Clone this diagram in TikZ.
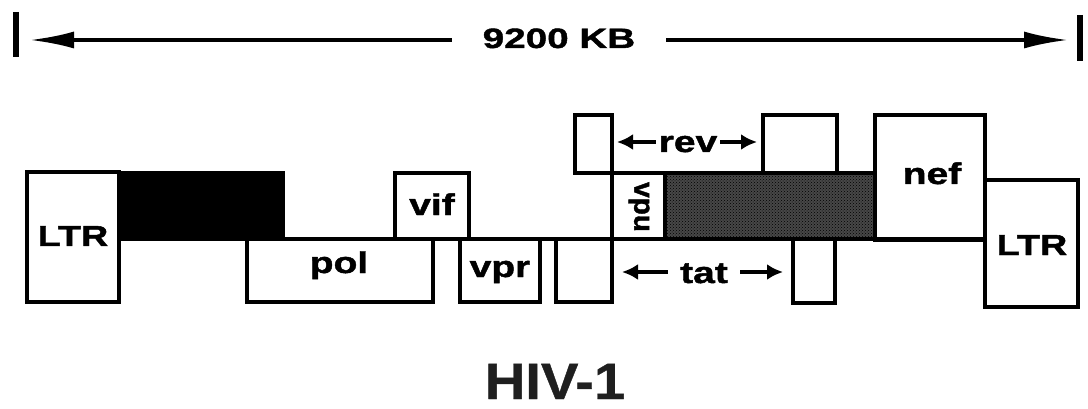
\documentclass[tikz,border=0pt]{standalone}
\usepackage{fontspec}
\newfontfamily\labfont[FakeStretch=1.3,BoldFeatures={FakeBold=1.5}]{Liberation Sans}
\newfontfamily\kbfont[FakeStretch=1.38,BoldFeatures={FakeBold=1.5}]{Liberation Sans}
\newfontfamily\titlefont[FakeStretch=1.1,BoldFeatures={FakeBold=0.8}]{Liberation Sans}
\newfontfamily\plainfont[BoldFeatures={FakeBold=1.5}]{Liberation Sans}
\usetikzlibrary{arrows.meta,patterns}
\tikzset{
  genebox/.style={draw=black, line width=3.4pt, line join=miter},
  lab/.style={font={\labfont\bfseries\fontsize{30}{30}\selectfont}, anchor=base, inner sep=0pt},
  ltrlab/.style={font={\labfont\bfseries\fontsize{29}{29}\selectfont}, anchor=base, inner sep=0pt},
  kblab/.style={font={\kbfont\bfseries\fontsize{28}{28}\selectfont}, anchor=base, inner ysep=0pt, inner xsep=31pt},
  titlelab/.style={font={\titlefont\bfseries\fontsize{51}{51}\selectfont}, anchor=base, inner sep=0pt, text=black!88},
  scalearrow/.style={line width=3.4pt, -{Latex[length=44pt,width=17pt]}},
  smallarrow/.style={line width=3.6pt, -{Latex[length=16pt,width=16pt]}},
  tick/.style={line width=5.5pt}
}
\begin{document}
\begin{tikzpicture}[x=1pt,y=-1pt]
\useasboundingbox (0,0) rectangle (1088,409);
% ---- scale bar ----
\node[kblab] (kb) at (559,48) {9200 KB};
\coordinate (tipL) at (30,40);
\coordinate (tipR) at (1068,40);
\draw[scalearrow] (kb.west |- tipL) -- (tipL);
\draw[scalearrow] (kb.east |- tipR) -- (tipR);
\draw[tick] (16,12) -- (16,57);
\draw[tick] (1080,15) -- (1080,61);
% ---- fills ----
\fill[black] (119,173) rectangle (283,239);
\fill[black!72] (665,173) rectangle (875,239);
\fill[pattern=crosshatch dots, pattern color=black] (665,173) rectangle (875,239);
% ---- baseline ----
\draw[genebox] (119,239) -- (985,239);
% ---- gene boxes ----
\draw[genebox] (27,172) rectangle (119,302);   % LTR left
\draw[genebox] (119,173) rectangle (283,239);  % gag
\draw[genebox] (247,239) rectangle (433,302);  % pol
\draw[genebox] (395,173) rectangle (469,239);  % vif
\draw[genebox] (460,239) rectangle (540,302);  % vpr
\draw[genebox] (556,239) rectangle (612,302);  % tat exon 1
\draw[genebox] (575,115) rectangle (612,173);  % rev exon 1
\draw[genebox] (612,173) rectangle (665,239);  % vpu
\draw[genebox] (665,173) rectangle (875,239);  % env
\draw[genebox] (763,115) rectangle (837,173);  % rev exon 2
\draw[genebox] (793,239) rectangle (835,303);  % tat exon 2
\draw[genebox] (875,115) rectangle (985,240);  % nef
\draw[genebox] (985,180) rectangle (1078,307); % LTR right
% ---- labels ----
\node[ltrlab] (ltrL) at (73,246) {LTR};
\node[lab] (pol) at (339,273) {pol};
\node[lab] (vif) at (432,215) {vif};
\node[lab] (vpr) at (500,277) {vpr};
\node[font={\plainfont\bfseries\fontsize{28}{28}\selectfont}, inner sep=0pt, rotate=-90] (vpu) at (639,207) {vpu};
\node[lab] (nef) at (932,184) {nef};
\node[ltrlab] (ltrR) at (1032,255) {LTR};
% rev
\node[lab, inner xsep=3pt] (rev) at (688,152) {rev};
\coordinate (revL) at (617,142);
\coordinate (revR) at (757,142);
\draw[smallarrow] (rev.west |- revL) -- (revL);
\draw[smallarrow] (rev.east |- revR) -- (revR);
% tat
\node[lab, inner xsep=12pt] (tat) at (704,283) {tat};
\coordinate (tatL) at (622,272);
\coordinate (tatR) at (783,272);
\draw[smallarrow] (tat.west |- tatL) -- (tatL);
\draw[smallarrow] (tat.east |- tatR) -- (tatR);
% ---- title ----
\node[titlelab] (title) at (555,399) {HIV-1};
\end{tikzpicture}
\end{document}
